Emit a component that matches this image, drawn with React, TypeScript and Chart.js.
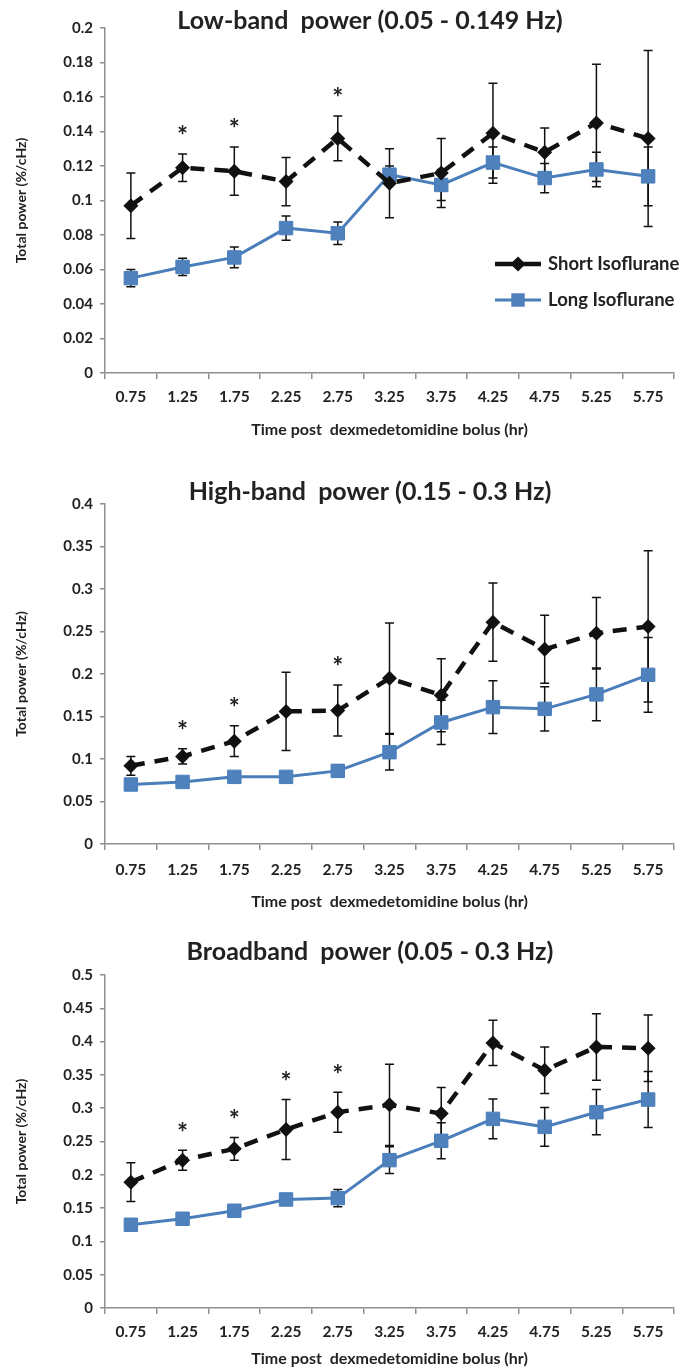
import React, { useEffect, useRef } from 'react';
import { Chart, registerables } from 'chart.js';

Chart.register(...registerables);

// ---------- data ----------
const timeLabels = ['0.75', '1.25', '1.75', '2.25', '2.75', '3.25', '3.75', '4.25', '4.75', '5.25', '5.75'];
const seriesNames = ['Short Isoflurane', 'Long Isoflurane'];
const xAxisTitle = 'Time post  dexmedetomidine bolus (hr)';
const yAxisTitle = 'Total power (%/cHz)';

const chartTitles = [
  'Low-band  power (0.05 - 0.149 Hz)',
  'High-band  power (0.15 - 0.3 Hz)',
  'Broadband  power (0.05 - 0.3 Hz)',
];

// Low-band
const lowShort = [0.097, 0.119, 0.117, 0.111, 0.136, 0.110, 0.116, 0.139, 0.128, 0.145, 0.136];
const lowShortErr = [0.019, 0.008, 0.014, 0.014, 0.013, 0.020, 0.020, 0.029, 0.014, 0.034, 0.051];
const lowLong = [0.055, 0.0615, 0.067, 0.084, 0.081, 0.115, 0.109, 0.122, 0.113, 0.118, 0.114];
const lowLongErr = [0.005, 0.005, 0.006, 0.007, 0.0065, 0.005, 0.009, 0.009, 0.0085, 0.010, 0.017];
const lowStars = [1, 2, 4];
const lowYTicks = { max: 0.2, step: 0.02 };

// High-band
const highShort = [0.092, 0.103, 0.121, 0.156, 0.157, 0.195, 0.175, 0.261, 0.229, 0.248, 0.256];
const highShortErr = [0.011, 0.009, 0.018, 0.046, 0.030, 0.065, 0.043, 0.046, 0.040, 0.042, 0.089];
const highLong = [0.070, 0.073, 0.079, 0.079, 0.086, 0.108, 0.143, 0.161, 0.159, 0.176, 0.199];
const highLongErr = [0.002, 0.002, 0.002, 0.002, 0.007, 0.021, 0.026, 0.031, 0.026, 0.031, 0.044];
const highStars = [1, 2, 4];
const highYTicks = { max: 0.4, step: 0.05 };

// Broadband
const broadShort = [0.189, 0.222, 0.239, 0.268, 0.294, 0.305, 0.292, 0.398, 0.357, 0.392, 0.390];
const broadShortErr = [0.029, 0.015, 0.017, 0.045, 0.030, 0.061, 0.039, 0.034, 0.035, 0.050, 0.050];
const broadLong = [0.125, 0.134, 0.146, 0.163, 0.165, 0.222, 0.251, 0.284, 0.272, 0.294, 0.313];
const broadLongErr = [0.008, 0.003, 0.003, 0.006, 0.013, 0.020, 0.027, 0.030, 0.029, 0.034, 0.042];
const broadStars = [1, 2, 3, 4];
const broadYTicks = { max: 0.5, step: 0.05 };

// ---------- style ----------
const FONT = "Lato, 'Open Sans', sans-serif";
const TEXT = '#222222';
const AXIS = '#8f8f8f';
const BLACK = '#111111';
const BLUE_LINE = '#4a7ebb';
const BLUE_FILL = '#4f81bd';

const errorBarPlugin = {
  id: 'errorBars',
  beforeDatasetsDraw(chart: any) {
    const { ctx } = chart;
    const yScale = chart.scales.y;
    chart.data.datasets.forEach((ds: any, di: number) => {
      const errs = ds.errors as number[] | undefined;
      if (!errs) return;
      const meta = chart.getDatasetMeta(di);
      meta.data.forEach((pt: any, i: number) => {
        const v = ds.data[i];
        const e = errs[i];
        const px = pt.x;
        const yt = yScale.getPixelForValue(v + e);
        const yb = yScale.getPixelForValue(v - e);
        ctx.save();
        ctx.strokeStyle = BLACK;
        ctx.lineWidth = 1.5;
        ctx.beginPath();
        ctx.moveTo(px, yt);
        ctx.lineTo(px, yb);
        ctx.moveTo(px - 4.5, yt);
        ctx.lineTo(px + 4.5, yt);
        ctx.moveTo(px - 4.5, yb);
        ctx.lineTo(px + 4.5, yb);
        ctx.stroke();
        ctx.restore();
      });
    });
  },
};

const starPlugin = {
  id: 'stars',
  afterDatasetsDraw(chart: any, _a: any, opts: any) {
    const stars: number[] = opts.indices || [];
    const ds: any = chart.data.datasets[0];
    const yScale = chart.scales.y;
    const meta = chart.getDatasetMeta(0);
    const { ctx } = chart;
    ctx.save();
    ctx.fillStyle = TEXT;
    ctx.font = `bold 26px ${FONT}`;
    ctx.textAlign = 'center';
    ctx.textBaseline = 'middle';
    stars.forEach((i) => {
      const px = meta.data[i].x;
      const py = yScale.getPixelForValue(ds.data[i] + ds.errors[i]) - 17;
      ctx.fillText('*', px, py);
    });
    ctx.restore();
  },
};

const headingPlugin = {
  id: 'heading',
  afterDraw(chart: any, _a: any, opts: any) {
    const { ctx } = chart;
    ctx.save();
    ctx.fillStyle = TEXT;
    ctx.font = `bold ${opts.size}px ${FONT}`;
    ctx.textAlign = 'center';
    ctx.textBaseline = 'middle';
    ctx.fillText(opts.text, opts.x, opts.y);
    ctx.restore();
  },
};

const insideLegendPlugin = {
  id: 'insideLegend',
  afterDraw(chart: any, _a: any, opts: any) {
    if (!opts.show) return;
    const { ctx } = chart;
    chart.data.datasets.forEach((ds: any, i: number) => {
      const y = opts.y + i * opts.gap;
      ctx.save();
      ctx.strokeStyle = ds.borderColor;
      ctx.lineWidth = ds.borderWidth;
      ctx.beginPath();
      ctx.moveTo(opts.x, y);
      ctx.lineTo(opts.x + opts.len, y);
      ctx.stroke();
      const cx = opts.x + opts.len / 2;
      ctx.fillStyle = ds.pointBackgroundColor;
      ctx.beginPath();
      if (ds.pointStyle === 'rectRot') {
        const r = ds.pointRadius;
        ctx.moveTo(cx - r, y);
        ctx.lineTo(cx, y - r);
        ctx.lineTo(cx + r, y);
        ctx.lineTo(cx, y + r);
        ctx.closePath();
      } else {
        const s = ds.pointRadius * Math.SQRT1_2;
        ctx.rect(cx - s, y - s, 2 * s, 2 * s);
      }
      ctx.fill();
      ctx.fillStyle = TEXT;
      ctx.font = `bold ${opts.size}px ${FONT}`;
      ctx.textAlign = 'left';
      ctx.textBaseline = 'middle';
      ctx.fillText(ds.label, opts.x + opts.len + 7, y);
      ctx.restore();
    });
  },
};

function fmt(v: number) {
  return String(parseFloat(Number(v).toFixed(4)));
}

interface PanelSpec {
  title: string;
  short: number[];
  shortErr: number[];
  long: number[];
  longErr: number[];
  stars: number[];
  yTicks: { max: number; step: number };
  height: number;
  padTop: number;
  xHeight: number;
  tickPad: number;
  xTitlePad: number;
  titleY: number;
  legend: boolean;
}

const panels: PanelSpec[] = [
  { title: chartTitles[0], short: lowShort, shortErr: lowShortErr, long: lowLong, longErr: lowLongErr, stars: lowStars, yTicks: lowYTicks,
    height: 456, padTop: 28, xHeight: 83, tickPad: 9, xTitlePad: 17, titleY: 21, legend: true },
  { title: chartTitles[1], short: highShort, shortErr: highShortErr, long: highLong, longErr: highLongErr, stars: highStars, yTicks: highYTicks,
    height: 458, padTop: 48, xHeight: 70, tickPad: 11, xTitlePad: 3, titleY: 36, legend: false },
  { title: chartTitles[2], short: broadShort, shortErr: broadShortErr, long: broadLong, longErr: broadLongErr, stars: broadStars, yTicks: broadYTicks,
    height: 455, padTop: 61, xHeight: 61, tickPad: 9, xTitlePad: 1, titleY: 38, legend: false },
];

function Panel({ spec }: { spec: PanelSpec }) {
  const ref = useRef<HTMLCanvasElement | null>(null);
  useEffect(() => {
    if (!ref.current) return;
    const chart = new Chart(ref.current, {
      type: 'line',
      data: {
        labels: timeLabels,
        datasets: [
          {
            label: seriesNames[0],
            data: spec.short,
            errors: spec.shortErr,
            borderColor: BLACK,
            borderWidth: 4.5,
            borderDash: [14, 10],
            pointStyle: 'rectRot',
            pointRadius: 7.5,
            pointBackgroundColor: BLACK,
            pointBorderColor: BLACK,
            pointBorderWidth: 0,
            tension: 0,
          } as any,
          {
            label: seriesNames[1],
            data: spec.long,
            errors: spec.longErr,
            borderColor: BLUE_LINE,
            borderWidth: 3,
            pointStyle: 'rect',
            pointRadius: 9.5,
            pointBackgroundColor: BLUE_FILL,
            pointBorderColor: BLUE_LINE,
            pointBorderWidth: 1,
            tension: 0,
          } as any,
        ],
      },
      options: {
        responsive: false,
        animation: false,
        events: [],
        layout: { padding: { top: spec.padTop, right: 12, left: 0, bottom: 0 } },
        scales: {
          x: {
            type: 'category',
            offset: true,
            grid: { offset: true, drawOnChartArea: false, drawTicks: true, tickLength: 6, color: AXIS, lineWidth: 1.5 },
            border: { display: true, color: AXIS, width: 1.5 },
            ticks: { color: TEXT, font: { family: FONT, size: 15.5, weight: 'bold' }, padding: spec.tickPad, maxRotation: 0, autoSkip: false },
            title: { display: true, text: xAxisTitle, color: TEXT, font: { family: FONT, size: 16, weight: 'bold' }, padding: { top: 0, bottom: spec.xTitlePad } },
            afterFit: (s: any) => { s.height = spec.xHeight; },
          },
          y: {
            min: 0,
            max: spec.yTicks.max,
            grid: { drawOnChartArea: false, drawTicks: true, tickLength: 5, color: AXIS, lineWidth: 1.5 },
            border: { display: true, color: AXIS, width: 1.5 },
            ticks: { stepSize: spec.yTicks.step, color: TEXT, font: { family: FONT, size: 15, weight: 'bold' }, padding: 7, callback: (v: any) => fmt(v) },
            title: { display: true, text: yAxisTitle, color: TEXT, font: { family: FONT, size: 14, weight: 'bold' }, padding: { top: 13, bottom: 0 } },
            afterFit: (s: any) => { s.width = 105; },
          },
        },
        plugins: {
          legend: { display: false },
          tooltip: { enabled: false },
          stars: { indices: spec.stars },
          heading: { text: spec.title, x: 370, y: spec.titleY, size: 25 },
          insideLegend: { show: spec.legend, x: 495, y: 264, gap: 36, len: 46, size: 18.5 },
        } as any,
      },
      plugins: [errorBarPlugin, starPlugin, headingPlugin, insideLegendPlugin],
    } as any);
    return () => chart.destroy();
  }, [spec]);
  return <canvas ref={ref} width={686} height={spec.height} style={{ display: 'block', width: 686, height: spec.height }} />;
}

export default function App() {
  return (
    <div style={{ position: 'absolute', left: 0, top: 0, width: 686, height: 1369, background: '#fff' }}>
      {panels.map((p, i) => (
        <Panel key={i} spec={p} />
      ))}
    </div>
  );
}
